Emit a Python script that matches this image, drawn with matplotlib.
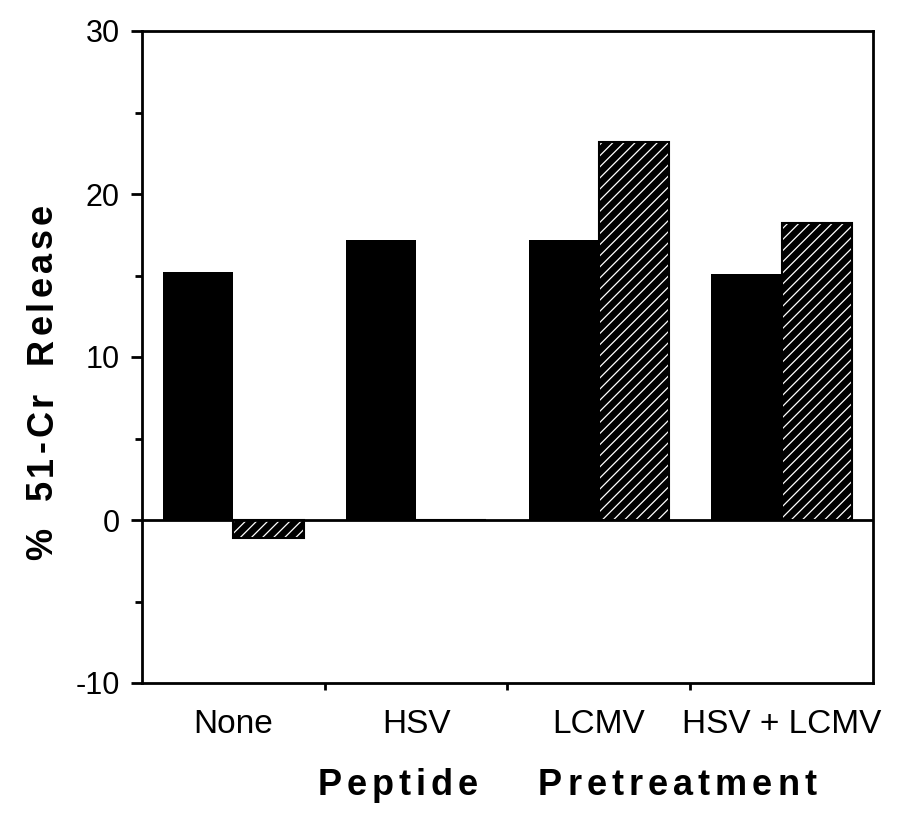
import matplotlib
matplotlib.use("Agg")
import matplotlib.pyplot as plt
from matplotlib.transforms import IdentityTransform
from matplotlib.font_manager import FontProperties

plt.rcParams['font.family'] = ['Liberation Sans', 'DejaVu Sans']
plt.rcParams['hatch.linewidth'] = 0.9
plt.rcParams['axes.unicode_minus'] = False

categories = ["None", "HSV", "LCMV", "HSV + LCMV"]
solid_vals = [15.2, 17.2, 17.2, 15.1]
hatched_vals = [-1.1, 0.0, 23.2, 18.2]
yticks = [-10, 0, 10, 20, 30]

W, H = 903, 818
fig = plt.figure(figsize=(W / 100, H / 100), dpi=100)
ax = fig.add_axes([142 / W, 1 - 683 / H, 731 / W, 652 / H])

centers = [i + 0.5 for i in range(len(categories))]
bw = 0.385
ax.bar([c - bw / 2 for c in centers], solid_vals, width=bw,
       color="black", linewidth=0, zorder=2)
ax.bar([c + bw / 2 for c in centers], hatched_vals, width=bw,
       facecolor="black", edgecolor="white", hatch="///", linewidth=0, zorder=2)
ax.bar([c + bw / 2 for c in centers], hatched_vals, width=bw,
       fill=False, edgecolor="black", linewidth=1.5, zorder=3)

ax.axhline(0, color="black", lw=2.0, zorder=4)

ax.set_xlim(0, 4)
ax.set_ylim(-10, 30)
ax.set_yticks(yticks)
ax.set_yticks([-5, 5, 15, 25], minor=True)
ax.tick_params(axis="y", which="major", length=8, width=2, pad=8, labelsize=22)
ax.tick_params(axis="y", which="minor", length=5, width=2)

# ticks between groups, labels at group centres
ax.set_xticks([1, 2, 3])
ax.set_xticklabels([])
ax.set_xticks(centers, minor=True)
ax.set_xticklabels(categories, minor=True)
ax.tick_params(axis="x", which="major", length=5, width=2)
ax.tick_params(axis="x", which="minor", length=0, pad=19, labelsize=24)

for s in ax.spines.values():
    s.set_linewidth(2.0)

# letter-spaced bold axis titles
fp = FontProperties(family=['Liberation Sans', 'DejaVu Sans'], weight='bold', size=26)
r = fig.canvas.get_renderer()


def spaced(words, cx, cy, track, gap, vertical=False):
    widths = [[r.get_text_width_height_descent(ch, fp, ismath=False)[0] for ch in w]
              for w in words]
    total = sum(sum(ws) + track * (len(ws) - 1) for ws in widths) + gap * (len(words) - 1)
    pos = -total / 2
    for w, ws in zip(words, widths):
        for ch, cw in zip(w, ws):
            if vertical:
                fig.text(cx, H - cy + pos, ch, fontproperties=fp, rotation=90,
                         rotation_mode="anchor", ha="left", va="baseline",
                         transform=IdentityTransform())
            else:
                fig.text(cx + pos, H - cy, ch, fontproperties=fp,
                         ha="left", va="baseline", transform=IdentityTransform())
            pos += cw + track
        pos += gap - track


spaced(["Peptide", "Pretreatment"], 567, 795, 5, 60)
spaced(["%", "51-Cr", "Release"], 52, 382, 4, 28, vertical=True)

fig.savefig("out.png", dpi=100)
